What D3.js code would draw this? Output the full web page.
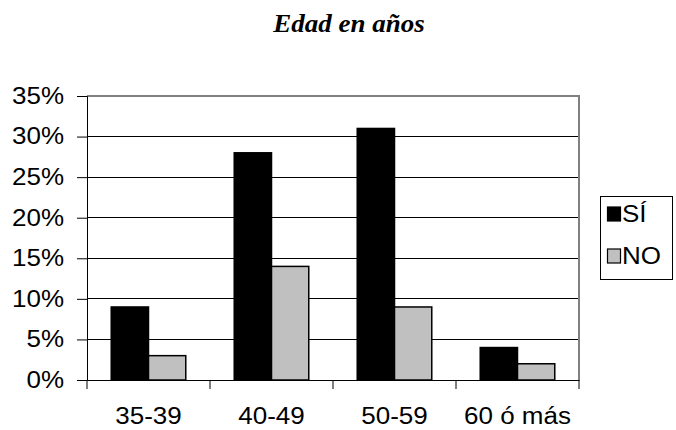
<!DOCTYPE html>
<html><head><meta charset="utf-8">
<script src="https://cdn.jsdelivr.net/npm/d3@7"></script>
<style>body{margin:0;background:#fff}svg{display:block}</style>
</head><body>
<script>
const categories = ["35-39", "40-49", "50-59", "60 ó más"];
const seriesNames = ["SÍ", "NO"];
const valuesSI = [9, 28, 31, 4];
const valuesNO = [3, 14, 9, 2];
const yTicks = [0, 5, 10, 15, 20, 25, 30, 35];
const colors = ["#000000", "#c0c0c0"];

const W = 676, H = 430;
const m = {left: 87, right: 97, top: 96, bottom: 50};
const FONT = "Liberation Sans, Arial, sans-serif";
const FS = 23, STRETCH = 1.13;
const svg = d3.select("body").append("svg").attr("width", W).attr("height", H);

function stretch(sel, k) {
  sel.each(function() {
    const w = this.getComputedTextLength();
    d3.select(this).attr("textLength", w * k).attr("lengthAdjust", "spacingAndGlyphs");
  });
}

const x0 = d3.scaleBand().domain(categories).range([m.left, W - m.right]).paddingInner(0).paddingOuter(0);
const y = d3.scaleLinear().domain([0, 35]).range([H - m.bottom, m.top]);
const x1 = d3.scaleBand().domain(seriesNames).range([0, x0.bandwidth()]).paddingInner(0).paddingOuter(0.65);

// title
const title = svg.append("text").attr("x", 349).attr("y", 32).attr("text-anchor", "middle")
  .attr("font-family", "Liberation Serif, Times New Roman, serif").attr("font-weight", "bold")
  .attr("font-style", "italic").attr("font-size", 25).text("Edad en años");
stretch(title, 1.08);

// gridlines
svg.append("g").selectAll("line").data(yTicks.filter(d => d > 0 && d < 35)).join("line")
  .attr("x1", m.left).attr("x2", W - m.right).attr("y1", d => y(d)).attr("y2", d => y(d))
  .attr("stroke", "#000").attr("stroke-width", 1).attr("shape-rendering", "crispEdges");

// plot border (top/right gray)
svg.append("path").attr("d", `M${m.left},${y(35)}H${W - m.right}V${y(0)}`)
  .attr("fill", "none").attr("stroke", "#808080").attr("stroke-width", 2).attr("shape-rendering", "crispEdges");

// bars
const data = categories.map((c, i) => ({c, vals: [valuesSI[i], valuesNO[i]]}));
const g = svg.append("g").selectAll("g").data(data).join("g").attr("transform", d => `translate(${x0(d.c)},0)`);
g.selectAll("rect").data(d => d.vals.map((v, j) => ({v, s: seriesNames[j], j}))).join("rect")
  .attr("x", d => x1(d.s)).attr("width", x1.bandwidth())
  .attr("y", d => y(d.v)).attr("height", d => y(0) - y(d.v))
  .attr("fill", d => colors[d.j]).attr("stroke", "#000").attr("stroke-width", 1.5);

// y axis
const yAxis = svg.append("g").attr("transform", `translate(${m.left},0)`)
  .call(d3.axisLeft(y).tickValues(yTicks).tickFormat(d => d + "%").tickSizeOuter(0).tickSize(10).tickPadding(13));
yAxis.select(".domain").attr("stroke", "#000");
yAxis.selectAll("text").attr("font-family", FONT).attr("font-size", FS).attr("fill", "#000").call(stretch, STRETCH);

// x axis
const xAxis = svg.append("g").attr("transform", `translate(0,${y(0)})`)
  .call(d3.axisBottom(x0).tickSize(0).tickPadding(28));
xAxis.select(".domain").attr("stroke", "#000").attr("stroke-width", 1);
xAxis.selectAll("text").attr("font-family", FONT).attr("font-size", FS).attr("fill", "#000").call(stretch, STRETCH);
const bounds = categories.map(c => x0(c)).concat([x0(categories[categories.length - 1]) + x0.bandwidth()]);
xAxis.selectAll(".sep").data(bounds).join("line").attr("class", "sep")
  .attr("x1", d => d).attr("x2", d => d).attr("y1", 0).attr("y2", 9).attr("stroke", "#000");

// legend
const lg = svg.append("g");
lg.append("rect").attr("x", 600.5).attr("y", 196.5).attr("width", 72).attr("height", 83)
  .attr("fill", "#fff").attr("stroke", "#000").attr("stroke-width", 1);
seriesNames.forEach((s, i) => {
  const cy = 214 + i * 42;
  lg.append("rect").attr("x", 607.5).attr("y", cy - 7).attr("width", 13).attr("height", 14)
    .attr("fill", colors[i]).attr("stroke", "#000").attr("stroke-width", 1.2);
  const t = lg.append("text").attr("x", 622).attr("y", cy + 8).attr("font-family", FONT)
    .attr("font-size", FS).text(s);
  stretch(t, STRETCH);
});
</script>
</body></html>
